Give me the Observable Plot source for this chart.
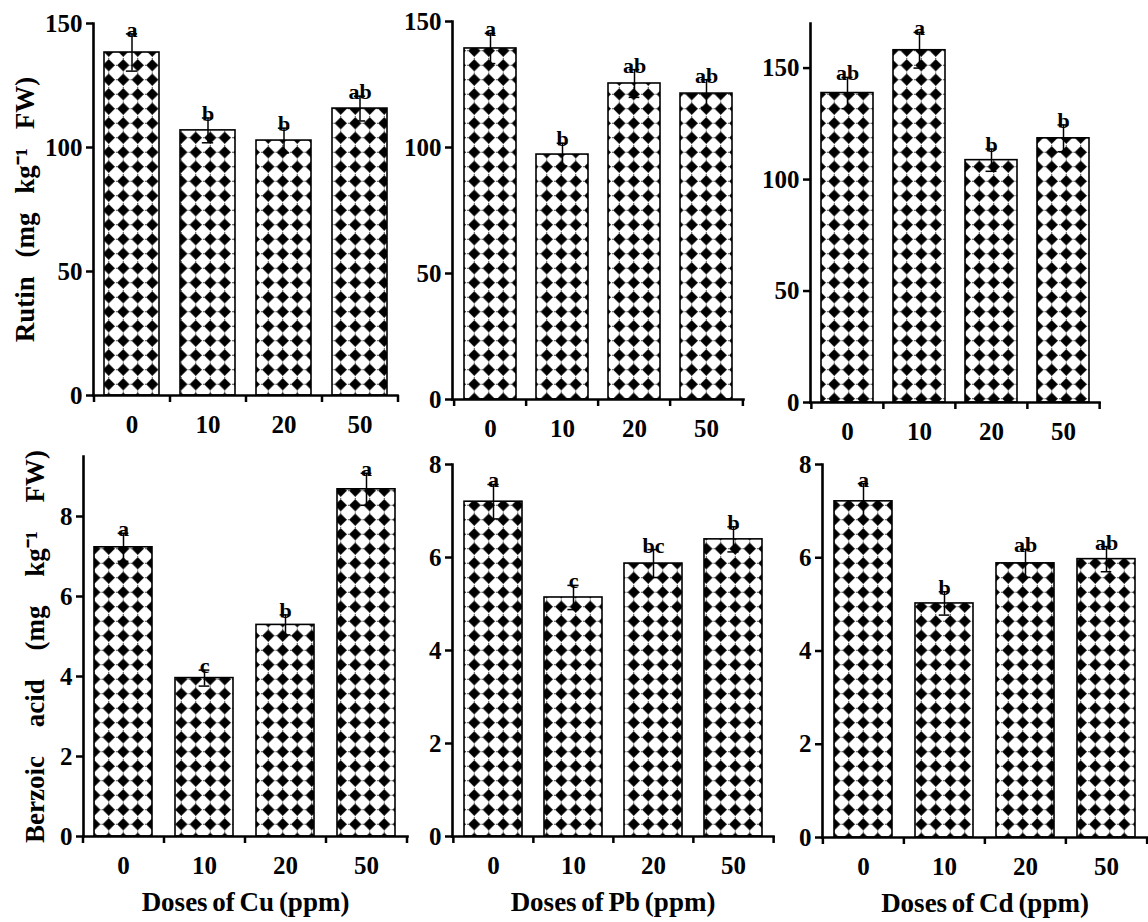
<!DOCTYPE html>
<html><head><meta charset="utf-8">
<script src="https://cdn.jsdelivr.net/npm/d3@7"></script>
<script src="https://cdn.jsdelivr.net/npm/@observablehq/plot@0.6"></script>
<style>
body{margin:0;background:#fff;}
#wrap{position:relative;width:1148px;height:922px;overflow:hidden;background:#fff;}
#wrap svg{position:absolute;overflow:visible;}
</style></head><body><div id="wrap"></div>
<script>
// ---- data ----
const doses = ["0", "10", "20", "50"];

const rutinCu = [138.3, 106.9, 102.8, 115.7];
const rutinCuErr = [7.5, 5, 5, 5];
const rutinCuLetters = ["a", "b", "b", "ab"];

const rutinPb = [139.3, 97.2, 125.4, 121.4];
const rutinPbErr = [6, 4.5, 5.5, 5.5];
const rutinPbLetters = ["a", "b", "ab", "ab"];

const rutinCd = [138.8, 158, 108.7, 118.5];
const rutinCdErr = [7, 8, 5, 6];
const rutinCdLetters = ["ab", "a", "b", "b"];

const benzCu = [7.23, 3.96, 5.29, 8.68];
const benzCuErr = [0.35, 0.2, 0.25, 0.4];
const benzCuLetters = ["a", "c", "b", "a"];

const benzPb = [7.2, 5.14, 5.87, 6.39];
const benzPbErr = [0.37, 0.26, 0.3, 0.27];
const benzPbLetters = ["a", "c", "bc", "b"];

const benzCd = [7.21, 5.02, 5.88, 5.97];
const benzCdErr = [0.38, 0.25, 0.3, 0.27];
const benzCdLetters = ["a", "b", "ab", "ab"];

const rutinTicks = [0, 50, 100, 150];
const benzTicks = [0, 2, 4, 6, 8];

const rutinLabel = "Rutin (mg kg\u207B\u00B9 FW)";
const benzLabel = "Berzoic acid (mg kg\u207B\u00B9 FW)";
const xTitles = ["Doses of Cu (ppm)", "Doses of Pb (ppm)", "Doses of Cd (ppm)"];

// ---- layout ----
const panels = [
  {v: rutinCu, e: rutinCuErr, l: rutinCuLetters, ticks: rutinTicks, dom: [0, 150], left: 0, top: 0, width: 400, height: 440, ml: 93, mr: 3, mt: 23, mb: 45, ylab: rutinLabel, ylabDx: -68, ws: 12},
  {v: rutinPb, e: rutinPbErr, l: rutinPbLetters, ticks: rutinTicks, dom: [0, 150], left: 380, top: 0, width: 366, height: 440, ml: 72, mr: 3, mt: 21, mb: 41},
  {v: rutinCd, e: rutinCdErr, l: rutinCdLetters, ticks: rutinTicks, dom: [0, 170], left: 740, top: 0, width: 362, height: 440, ml: 70, mr: 3, mt: 23, mb: 38},
  {v: benzCu, e: benzCuErr, l: benzCuLetters, ticks: benzTicks, dom: [0, 9.5], left: 0, top: 440, width: 410, height: 482, ml: 83, mr: 3, mt: 16, mb: 86, ylab: benzLabel, ylabDx: -48, ws: 22, xt: xTitles[0]},
  {v: benzPb, e: benzPbErr, l: benzPbLetters, ticks: benzTicks, dom: [0, 8], left: 380, top: 440, width: 396, height: 482, ml: 72, mr: 3, mt: 24, mb: 86, xt: xTitles[1]},
  {v: benzCd, e: benzCdErr, l: benzCdLetters, ticks: benzTicks, dom: [0, 8], left: 740, top: 440, width: 408, height: 482, ml: 82, mr: 1, mt: 24, mb: 85, xt: xTitles[2]}
];

const PI = 0.28;
const wrap = document.getElementById("wrap");

function patternDefs(id) {
  return () => {
    const ns = "http://www.w3.org/2000/svg";
    const d = document.createElementNS(ns, "defs");
    const s = 14.5, h = s / 2, r = 5.8;
    d.innerHTML = `<pattern id="${id}" width="${s}" height="${s}" patternUnits="userSpaceOnUse">
      <rect width="${s}" height="${s}" fill="white"/>
      <path d="M0 ${h}H${s}M${h} 0V${s}" stroke="#333" stroke-width="0.9" stroke-dasharray="1.4 1"/>
      <path d="M${h} ${h - r}L${h + r} ${h}L${h} ${h + r}L${h - r} ${h}Z" fill="black" stroke="black" stroke-width="0.6" stroke-linejoin="round"/>
    </pattern>`;
    return d;
  };
}

panels.forEach((p, k) => {
  const data = doses.map((d, i) => ({dose: d, value: p.v[i], err: p.e[i], letter: p.l[i]}));
  const step = (p.width - p.ml - p.mr) / doses.length;
  const bw = step * (1 - PI);
  const inset = (bw - 11) / 2;
  const id = "diam" + k;
  const marks = [
    patternDefs(id),
    Plot.barY(data, {x: "dose", y: "value", fill: `url(#${id})`, stroke: "black", strokeWidth: 1.6}),
    Plot.ruleX(data, {x: "dose", y1: d => d.value - d.err, y2: d => d.value + d.err, strokeWidth: 1.5}),
    Plot.tickY(data, {x: "dose", y: d => d.value + d.err, insetLeft: inset, insetRight: inset, strokeWidth: 1.5}),
    Plot.tickY(data, {x: "dose", y: d => d.value - d.err, insetLeft: inset, insetRight: inset, strokeWidth: 1.5}),
    Plot.text(data, {x: "dose", y: d => d.value + d.err, text: "letter", lineAnchor: "bottom", dy: 3, fontSize: 22, fontWeight: "bold"}),
    Plot.axisY({ticks: p.ticks, tickSize: 7, tickPadding: 4, fontSize: 25, strokeWidth: 2.5, label: null}),
    Plot.axisX({tickSize: 0, tickPadding: 20, fontSize: 25, label: null}),
    Plot.axisX({tickSize: 7, dx: -step / 2, tickFormat: () => "", strokeWidth: 2.5, label: null}),
    Plot.axisX({ticks: [doses[doses.length - 1]], tickSize: 7, dx: step / 2, tickFormat: () => "", strokeWidth: 2.5, label: null}),
    Plot.frame({anchor: "left", strokeWidth: 2.6}),
    Plot.frame({anchor: "bottom", strokeWidth: 2.6})
  ];
  if (p.ylab) marks.push(Plot.text([p.ylab], {text: d => d, frameAnchor: "left", textAnchor: "middle", dx: p.ylabDx, rotate: -90, fontSize: 27, fontWeight: "bold"}));
  if (p.xt) marks.push(Plot.text([p.xt], {text: d => d, frameAnchor: "bottom", dy: 55, lineAnchor: "top", fontSize: 27, fontWeight: "bold"}));
  const svg = Plot.plot({
    width: p.width, height: p.height,
    marginLeft: p.ml, marginRight: p.mr, marginTop: p.mt, marginBottom: p.mb,
    x: {type: "band", domain: doses, paddingInner: PI, paddingOuter: PI / 2},
    y: {domain: p.dom},
    style: {fontFamily: "'Liberation Serif', 'Times New Roman', serif", fontWeight: "bold", background: "transparent", color: "black", overflow: "visible"},
    marks
  });
  if (p.ylab) {
    svg.querySelectorAll("text").forEach(t => { if (t.textContent === p.ylab) t.style.wordSpacing = p.ws + "px"; });
  }
  if (p.xt) {
    svg.querySelectorAll("text").forEach(t => { if (t.textContent === p.xt) t.style.wordSpacing = "-2px"; });
  }
  svg.style.left = p.left + "px";
  svg.style.top = p.top + "px";
  wrap.appendChild(svg);
});
</script></body></html>
